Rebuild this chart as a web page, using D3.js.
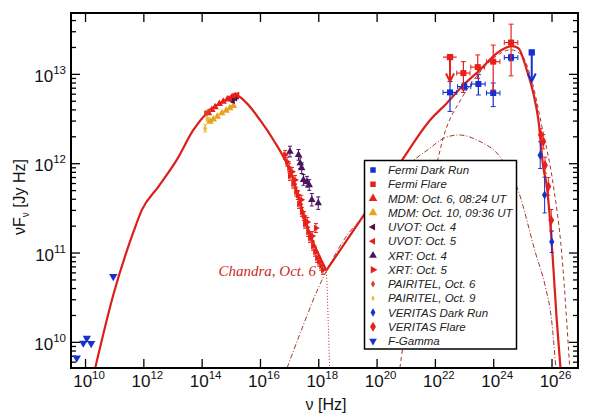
<!DOCTYPE html>
<html>
<head>
<meta charset="utf-8">
<script src="https://cdn.jsdelivr.net/npm/d3@7"></script>
<style>
body { margin: 0; background: #fff; }
svg { display: block; font-family: "Liberation Sans", Arial, sans-serif; }
</style>
</head>
<body>
<svg id="svgSed" width="597" height="419"></svg>
<script>
// Model curves [nu (Hz), nuFnu (Jy Hz)]
const modelTotal = [
	[2.2e10, 5.0e9], [9.3e10, 3.35e10], [4.6e11, 1.71e11], [8.9e11, 3.0e11], [3.2e12, 5.4e11],
	[1.4e13, 1.09e12], [5.2e13, 2.36e12], [1.48e14, 3.63e12], [5.5e14, 4.9e12], [1.58e15, 5.7e12],
	[3.5e15, 4.7e12], [1.0e16, 3.05e12], [2.9e16, 1.82e12], [1.07e17, 8.3e11], [5.2e17, 1.6e11],
	[1.9e18, 6.3e10], [4.0e19, 2.75e11], [6.3e20, 1.0e12], [6.9e21, 3.05e12], [2.57e22, 4.7e12],
	[9.5e22, 7.5e12], [3.55e23, 1.11e13], [1.32e24, 1.7e13], [4.4e24, 2.04e13], [7.2e24, 1.95e13],
	[1.41e25, 1.11e13], [2.4e25, 6.0e12], [3.55e25, 3.05e12], [5.2e25, 9.1e11], [6.9e25, 5.5e11],
	[8.9e25, 2.3e11], [1.17e26, 6.4e10], [1.51e26, 1.76e10], [1.86e26, 7.4e9], [2.04e26, 5.0e9]
];
const modelSync = [
	[1.07e17, 8.3e11], [5.2e17, 1.6e11], [1.26e18, 8.5e10], [1.9e18, 5.8e10], [2.2e18, 1.6e10], [2.45e18, 5.0e9]
];
const modelSsc = [
	[8.5e16, 5.1e9], [3.16e17, 1.58e10], [1.0e18, 4.0e10], [1.95e18, 6.3e10], [1.0e19, 1.58e11],
	[4.0e19, 2.63e11], [2.0e20, 5.2e11], [1.0e21, 9.1e11], [6.9e21, 1.48e12], [2.0e22, 1.9e12],
	[6.5e22, 2.07e12], [3.16e23, 1.78e12], [1.74e24, 1.17e12], [7.1e24, 5.0e11], [2.8e25, 1.0e11],
	[6.3e25, 4.0e10], [1.0e26, 1.78e10], [1.41e26, 5.1e9]
];
const modelEc = [
	[6.3e20, 5.1e9], [1.58e21, 4.0e10], [4.0e21, 2.0e11], [1.0e22, 7.9e11], [2.0e22, 2.0e12],
	[7.9e22, 5.2e12], [3.16e23, 1.0e13], [1.26e24, 1.58e13], [4.0e24, 1.86e13], [1.0e25, 1.58e13],
	[2.0e25, 8.9e12], [4.7e25, 2.57e12], [1.17e26, 5.5e11], [2.24e26, 9.8e10], [3.3e26, 1.76e10],
	[4.2e26, 5.1e9]
];

// Fermi [nu, flux, nuLo, nuHi, fluxLo, fluxHi]
const fermiFlare = [
	[9.5e22, 1.02e13, 5.6e22, 1.6e23, 6.2e12, 1.37e13],
	[2.95e23, 1.19e13, 1.7e23, 5.0e23, 8.9e12, 1.63e13],
	[1.0e24, 1.37e13, 5.9e23, 1.7e24, 6.6e12, 2.1e13],
	[4.1e24, 2.24e13, 2.4e24, 7.0e24, 9.5e12, 3.6e13]
];
const fermiDark = [
	[3.3e22, 6.2e12, 1.9e22, 5.6e22, 3.8e12, 8.2e12],
	[1.02e23, 7.2e12, 6.0e22, 1.7e23, 6.6e12, 7.9e12],
	[3.1e23, 7.7e12, 1.8e23, 5.3e23, 5.8e12, 9.8e12],
	[1.0e24, 6.1e12, 5.9e23, 1.7e24, 4.3e12, 7.9e12],
	[4.1e24, 1.52e13, 2.4e24, 7.0e24, 1.4e13, 1.65e13]
];
// Upper limits [nu, flux, nuLo, nuHi, arrow tip flux]
const fermiFlareUL = [[3.3e22, 1.54e13, 1.9e22, 5.6e22, 8.2e12]];
const fermiDarkUL = [[2.1e25, 1.74e13, 2.1e25, 2.1e25, 8.2e12]];

// Other data [nu, flux, error (dex)]
const veritasFlare = [[4.3e25, 2.07e12, 0.07], [5.2e25, 1.74e12, 0.08], [6.0e25, 9.5e11, 0.09], [7.8e25, 5.5e11, 0.1], [9.8e25, 2.3e11, 0.12]];
const veritasDark = [[4.1e25, 1.23e12, 0.15], [5.8e25, 4.4e11, 0.2], [1.02e26, 1.32e11, 0.12]];
const mdmOct6 = [[1.7e14, 3.63e12, 0], [2.24e14, 3.95e12, 0], [2.88e14, 4.24e12, 0], [4.07e14, 4.61e12, 0], [5.5e14, 4.9e12, 0], [7.6e14, 5.2e12, 0], [1.07e15, 5.4e12, 0], [1.41e15, 5.6e12, 0]];
const mdmOct10 = [[1.95e14, 2.92e12, 0], [2.5e14, 3.1e12, 0], [3.45e14, 3.33e12, 0], [4.9e14, 3.63e12, 0], [6.9e14, 3.88e12, 0], [9.3e14, 4.13e12, 0], [1.23e15, 4.39e12, 0]];
const uvotOct4 = [[1.17e15, 5.0e12, 0.02], [1.41e15, 5.35e12, 0.02], [1.58e15, 5.6e12, 0.02]];
const uvotOct5 = [[9.3e14, 5.35e12, 0.02], [1.23e15, 5.7e12, 0.02], [1.66e15, 5.8e12, 0.02]];
const xrtOct4 = [[1.07e17, 1.35e12, 0.06], [2.1e17, 1.24e12, 0.06], [2.4e17, 1.0e12, 0.06], [2.7e17, 8.8e11, 0.06], [3.1e17, 6.5e11, 0.06], [4.1e17, 6.2e11, 0.06], [4.9e17, 5.7e11, 0.06], [6.0e17, 3.9e11, 0.07], [1.0e18, 3.57e11, 0.07]];
const xrtOct5 = [
	[7.3e16, 1.24e12, 0.05], [8.5e16, 1.04e12, 0.05], [1.0e17, 8.9e11, 0.05], [1.07e17, 7.2e11, 0.05],
	[1.26e17, 8.0e11, 0.05], [1.38e17, 5.9e11, 0.05], [1.6e17, 6.5e11, 0.05], [1.74e17, 4.8e11, 0.05],
	[2.0e17, 4.4e11, 0.05], [2.2e17, 3.5e11, 0.05], [2.6e17, 3.9e11, 0.05], [2.75e17, 2.85e11, 0.05],
	[3.2e17, 2.57e11, 0.05], [3.5e17, 2.1e11, 0.05], [4.2e17, 2.2e11, 0.05], [4.5e17, 1.7e11, 0.05],
	[5.2e17, 1.46e11, 0.05], [6.2e17, 1.53e11, 0.05], [6.6e17, 1.19e11, 0.05], [7.8e17, 1.02e11, 0.05],
	[8.3e17, 1.88e11, 0.05], [9.1e17, 8.7e10, 0.05], [1.07e18, 7.9e10, 0.05], [1.26e18, 7.1e10, 0.05],
	[1.45e18, 6.4e10, 0.05]
];
const pairitelOct6 = [[1.41e14, 3.63e12, 0.02], [1.82e14, 3.8e12, 0.02]];
const pairitelOct9 = [[1.32e14, 2.45e12, 0.04], [1.58e14, 3.1e12, 0.02]];
const fGamma = [[9.3e10, 5.4e10, 0], [1.15e10, 1.1e10, 0], [8.7e9, 9.7e9, 0], [1.62e10, 9.6e9, 0], [5.2e9, 6.6e9, 0]];

// Axis ticks and legend text
const xMajor = [1e10, 1e12, 1e14, 1e16, 1e18, 1e20, 1e22, 1e24, 1e26];
const yMajor = [1e10, 1e11, 1e12, 1e13];
const legendLabels = [
	"Fermi Dark Run", "Fermi Flare", "MDM: Oct. 6, 08:24 UT", "MDM: Oct. 10, 09:36 UT",
	"UVOT: Oct. 4", "UVOT: Oct. 5", "XRT: Oct. 4", "XRT: Oct. 5", "PAIRITEL, Oct. 6",
	"PAIRITEL, Oct. 9", "VERITAS Dark Run", "VERITAS Flare", "F-Gamma"
];

var sed = {};

// Colors
const cBlue = "#1530d0", cRed = "#e8201a", cOrange = "#e8a418", cPurple = "#561048",
	cViolet = "#4a1462", cCurve = "#dc1f1a", cComp = "#a8342c";

// Marker styles in legend order
const markers = [
	{ type: d3.symbolSquare, rot: 0, color: cBlue, size: 30 },
	{ type: d3.symbolSquare, rot: 0, color: cRed, size: 30 },
	{ type: d3.symbolTriangle, rot: 0, color: cRed, size: 32 },
	{ type: d3.symbolTriangle, rot: 0, color: cOrange, size: 32 },
	{ type: d3.symbolTriangle, rot: -90, color: cPurple, size: 22 },
	{ type: d3.symbolTriangle, rot: -90, color: cRed, size: 22 },
	{ type: d3.symbolTriangle, rot: 0, color: cViolet, size: 26 },
	{ type: d3.symbolTriangle, rot: 90, color: cRed, size: 26 },
	{ type: d3.symbolDiamond, rot: 0, color: "#e03a22", size: 14 },
	{ type: d3.symbolDiamond, rot: 0, color: "#f0b838", size: 10 },
	{ type: d3.symbolDiamond, rot: 0, color: cBlue, size: 20 },
	{ type: d3.symbolDiamond, rot: 0, color: cRed, size: 30 },
	{ type: d3.symbolTriangle, rot: 180, color: cBlue, size: 26 }
];

sed.frame = { left: 71, right: 578, top: 13, bottom: 368 };

sed.draw = () => {
	let f = sed.frame;
	let svg = d3.select("#svgSed");

	let x = d3.scaleLog().domain([3.3e9, 8.1e26]).range([f.left, f.right]);
	let y = d3.scaleLog().domain([5.1e9, 4.8e13]).range([f.bottom, f.top]);
	let yMinor = y.ticks().filter((v) => yMajor.indexOf(v) < 0 && Math.abs(Math.log10(v) % 1) > 1e-6);

	svg.append("clipPath").attr("id", "clipPlot")
		.append("rect").attr("x", f.left).attr("y", f.top)
		.attr("width", f.right - f.left).attr("height", f.bottom - f.top);

	// Axes (ticks inward)
	let tickStyle = (g) => {
		g.select(".domain").remove();
		g.selectAll("line").attr("stroke", "#000").attr("stroke-width", 1.3);
	};
	svg.append("g").attr("transform", `translate(0,${f.bottom})`)
		.call(d3.axisBottom(x).tickValues(xMajor).tickSize(-9).tickFormat("")).call(tickStyle);
	svg.append("g").attr("transform", `translate(0,${f.top})`)
		.call(d3.axisTop(x).tickValues(xMajor).tickSize(-9).tickFormat("")).call(tickStyle);
	svg.append("g").attr("transform", `translate(${f.left},0)`)
		.call(d3.axisLeft(y).tickValues(yMajor).tickSize(-9).tickFormat("")).call(tickStyle);
	svg.append("g").attr("transform", `translate(${f.left},0)`)
		.call(d3.axisLeft(y).tickValues(yMinor).tickSize(-5).tickFormat("")).call(tickStyle);
	svg.append("g").attr("transform", `translate(${f.right},0)`)
		.call(d3.axisRight(y).tickValues(yMajor).tickSize(-9).tickFormat("")).call(tickStyle);
	svg.append("g").attr("transform", `translate(${f.right},0)`)
		.call(d3.axisRight(y).tickValues(yMinor).tickSize(-5).tickFormat("")).call(tickStyle);

	// Tick labels 10^n
	xMajor.forEach((v) => {
		let t = svg.append("text").attr("x", x(v) + 4).attr("y", 387)
			.attr("text-anchor", "middle").style("font-size", "17px").attr("fill", "#111");
		t.append("tspan").text("10");
		t.append("tspan").attr("dy", -8).style("font-size", "11.5px").text(Math.round(Math.log10(v)));
	});
	yMajor.forEach((v) => {
		let t = svg.append("text").attr("x", 66).attr("y", y(v) + 8)
			.attr("text-anchor", "end").style("font-size", "17px").attr("fill", "#111");
		t.append("tspan").text("10");
		t.append("tspan").attr("dy", -8).style("font-size", "11.5px").text(Math.round(Math.log10(v)));
	});

	// Axis titles
	let xt = svg.append("text").attr("x", 326).attr("y", 410).attr("text-anchor", "middle")
		.style("font-size", "16px").attr("fill", "#111");
	xt.append("tspan").text("\u03bd [Hz]");
	let yt = svg.append("text").attr("transform", "translate(25,197) rotate(-90)")
		.attr("text-anchor", "middle").style("font-size", "16px").attr("fill", "#111");
	yt.append("tspan").text("\u03bdF");
	yt.append("tspan").attr("dy", 4).style("font-size", "10px").text("\u03bd");
	yt.append("tspan").attr("dy", -4).text(" [Jy Hz]");

	// Model curves
	let line = d3.line().x((d) => x(d[0])).y((d) => y(d[1])).curve(d3.curveMonotoneX);
	let plot = svg.append("g").attr("clip-path", "url(#clipPlot)");
	plot.append("path").attr("d", line(modelSync)).attr("fill", "none")
		.attr("stroke", cCurve).attr("stroke-width", 1).attr("stroke-dasharray", "1,2");
	plot.append("path").attr("d", line(modelSsc)).attr("fill", "none")
		.attr("stroke", cComp).attr("stroke-width", 1).attr("stroke-dasharray", "5,2,1,2");
	plot.append("path").attr("d", line(modelEc)).attr("fill", "none")
		.attr("stroke", cComp).attr("stroke-width", 1).attr("stroke-dasharray", "4,3");

	// Total curve: split at the X-ray dip so the valley stays sharp
	let dip = d3.minIndex(modelTotal, (d) => (d[0] > 1e17 && d[0] < 1e20) ? d[1] : Infinity);
	[modelTotal.slice(0, dip + 1), modelTotal.slice(dip)].forEach((part) => {
		plot.append("path").attr("d", line(part)).attr("fill", "none")
			.attr("stroke", cCurve).attr("stroke-width", 2.2).attr("stroke-linejoin", "round");
	});

	// Data points
	let sym = (m, s) => d3.symbol().type(m.type).size(s || m.size)();
	let drawSet = (rows, m, size) => {
		let g = plot.append("g");
		rows.forEach((r) => {
			let px = x(r[0]), py = y(r[1]);
			if (r[2] > 0) {
				let y0 = y(r[1] / Math.pow(10, r[2])), y1 = y(r[1] * Math.pow(10, r[2]));
				g.append("line").attr("x1", px).attr("x2", px).attr("y1", y0).attr("y2", y1)
					.attr("stroke", m.color).attr("stroke-width", 1);
				[y0, y1].forEach((yy) => g.append("line").attr("x1", px - 2).attr("x2", px + 2)
					.attr("y1", yy).attr("y2", yy).attr("stroke", m.color).attr("stroke-width", 1));
			}
			g.append("path").attr("d", sym(m, size))
				.attr("transform", `translate(${px},${py}) rotate(${m.rot})`).attr("fill", m.color);
		});
	};
	let drawFermi = (rows, m) => {
		let g = plot.append("g");
		rows.forEach((r) => {
			let px = x(r[0]), py = y(r[1]);
			g.append("line").attr("x1", x(r[2])).attr("x2", x(r[3])).attr("y1", py).attr("y2", py)
				.attr("stroke", m.color).attr("stroke-width", 1.2);
			[r[2], r[3]].forEach((v) => g.append("line").attr("x1", x(v)).attr("x2", x(v))
				.attr("y1", py - 2.5).attr("y2", py + 2.5).attr("stroke", m.color));
			g.append("line").attr("x1", px).attr("x2", px).attr("y1", y(r[4])).attr("y2", y(r[5]))
				.attr("stroke", m.color).attr("stroke-width", 1.2);
			[r[4], r[5]].forEach((v) => g.append("line").attr("x1", px - 2.5).attr("x2", px + 2.5)
				.attr("y1", y(v)).attr("y2", y(v)).attr("stroke", m.color));
			g.append("path").attr("d", sym(m, 36)).attr("transform", `translate(${px},${py})`).attr("fill", m.color);
		});
	};
	let drawUL = (rows, m) => {
		let g = plot.append("g");
		rows.forEach((r) => {
			let px = x(r[0]), py = y(r[1]), tip = y(r[4]);
			if (r[2] < r[3]) {
				g.append("line").attr("x1", x(r[2])).attr("x2", x(r[3])).attr("y1", py).attr("y2", py)
					.attr("stroke", m.color).attr("stroke-width", 1.2);
			}
			g.append("line").attr("x1", px).attr("x2", px).attr("y1", py).attr("y2", tip)
				.attr("stroke", m.color).attr("stroke-width", 2);
			g.append("path").attr("d", `M${px - 4},${tip - 8}L${px},${tip}L${px + 4},${tip - 8}`)
				.attr("fill", "none").attr("stroke", m.color).attr("stroke-width", 2);
			g.append("path").attr("d", sym(m, 40)).attr("transform", `translate(${px},${py})`).attr("fill", m.color);
		});
	};

	drawSet(fGamma, markers[12], 30);
	drawSet(pairitelOct9, markers[9], 14);
	drawSet(mdmOct10, markers[3], 24);
	drawSet(mdmOct6, markers[2], 24);
	drawSet(pairitelOct6, markers[8], 16);
	drawSet(uvotOct4, markers[4], 20);
	drawSet(uvotOct5, markers[5], 20);
	drawSet(xrtOct5, markers[7], 20);
	drawSet(xrtOct4, markers[6], 24);
	drawFermi(fermiDark, markers[0]);
	drawFermi(fermiFlare, markers[1]);
	drawUL(fermiFlareUL, markers[1]);
	drawUL(fermiDarkUL, markers[0]);
	drawSet(veritasDark, markers[10], 24);
	drawSet(veritasFlare, markers[11], 30);

	// Annotation
	svg.append("text").attr("x", 316).attr("y", 276).attr("text-anchor", "end")
		.style("font-family", "'Liberation Serif', 'Times New Roman', serif")
		.style("font-style", "italic").style("font-size", "15px").attr("fill", "#cc2a26")
		.text("Chandra, Oct. 6");

	// Legend
	let lg = svg.append("g");
	lg.append("rect").attr("x", 364.5).attr("y", 160.5).attr("width", 152).attr("height", 188.5)
		.attr("fill", "#fff").attr("stroke", "#000").attr("stroke-width", 1.5);
	legendLabels.forEach((label, i) => {
		let ly = 170 + i * 14.25;
		let m = markers[i];
		lg.append("path").attr("d", sym(m))
			.attr("transform", `translate(373,${ly}) rotate(${m.rot})`).attr("fill", m.color);
		lg.append("text").attr("x", 388).attr("y", ly + 4)
			.style("font-size", "11.5px").style("font-style", "italic").attr("fill", "#222")
			.text(label);
	});

	// Frame
	svg.append("rect").attr("x", f.left).attr("y", f.top)
		.attr("width", f.right - f.left).attr("height", f.bottom - f.top)
		.attr("fill", "none").attr("stroke", "#000").attr("stroke-width", 2);
};

sed.draw();
</script>
</body>
</html>
